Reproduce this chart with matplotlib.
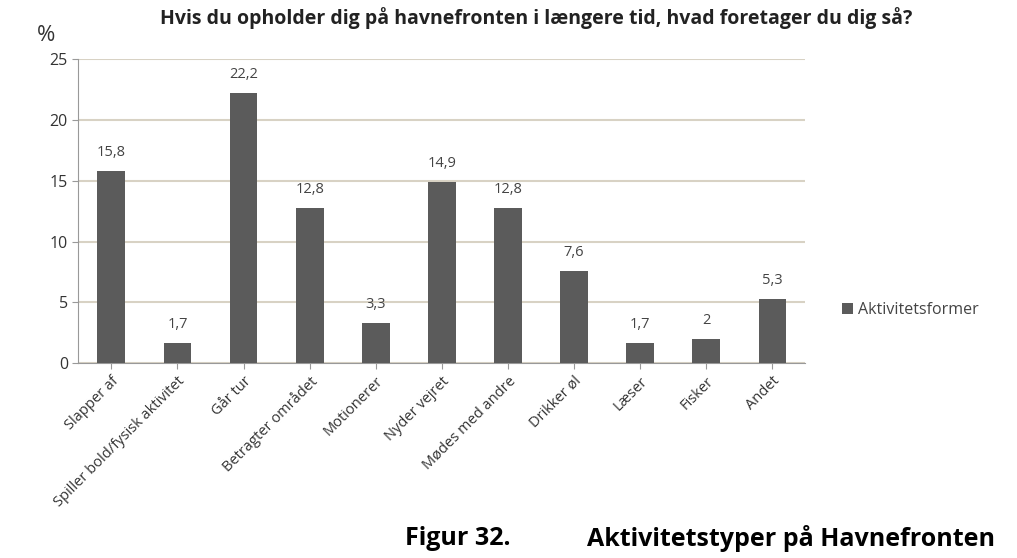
import numpy as np
from matplotlib import pyplot as plt

categories = ['Slapper af', 'Spiller bold/fysisk aktivitet', 'Går tur',
              'Betragter området', 'Motionerer', 'Nyder vejret',
              'Mødes med andre', 'Drikker øl', 'Læser', 'Fisker', 'Andet']
values = [15.8, 1.7, 22.2, 12.8, 3.3, 14.9, 12.8, 7.6, 1.7, 2, 5.3]
labels = ['15,8', '1,7', '22,2', '12,8', '3,3', '14,9', '12,8', '7,6', '1,7', '2', '5,3']
y_ticks = [0, 5, 10, 15, 20, 25]

plt.rcParams['font.family'] = ['Open Sans', 'DejaVu Sans']

fig = plt.figure(figsize=(10.17, 5.58), dpi=100)
ax = fig.add_axes([0.077, 0.349, 0.715, 0.545])

x = np.arange(len(categories))
ax.bar(x, values, width=0.42, color='#5b5b5b', label='Aktivitetsformer', zorder=3)

for xi, v, lab in zip(x, values, labels):
    ax.text(xi, v + 0.9, lab, ha='center', va='bottom', fontsize=10.5, color='#444444')

ax.set_xlim(-0.5, len(categories) - 0.5)
ax.set_ylim(0, 25)
ax.set_yticks(y_ticks)
ax.set_yticklabels([str(t) for t in y_ticks], fontsize=11.5, color='#333333')
ax.yaxis.grid(True, color='#d8d2c4', linewidth=1.5, zorder=0)
ax.set_xticks(x)
ax.set_xticklabels(categories, rotation=45, ha='right', rotation_mode='anchor',
                   fontsize=10.5, color='#333333')
ax.tick_params(axis='x', length=4, color='#999999')
ax.tick_params(axis='y', length=4, color='#999999')

for s in ['top', 'right']:
    ax.spines[s].set_visible(False)
ax.spines['left'].set_color('#999999')
ax.spines['bottom'].set_color('#999999')

leg = ax.legend(loc='center left', bbox_to_anchor=(1.03, 0.175), frameon=False,
                fontsize=11.5, handlelength=0.7, handleheight=0.7, handletextpad=0.3)
for t in leg.get_texts():
    t.set_color('#444444')

fig.text(0.527, 0.968, 'Hvis du opholder dig på havnefronten i længere tid, hvad foretager du dig så?',
         ha='center', va='center', fontsize=14, fontweight='bold', color='#222222')
fig.text(0.045, 0.937, '%', ha='center', va='center', fontsize=16, color='#333333')

fig.text(0.398, 0.035, 'Figur 32.', ha='left', va='center', fontsize=18, fontweight='bold')
fig.text(0.577, 0.035, 'Aktivitetstyper på Havnefronten', ha='left', va='center',
         fontsize=18, fontweight='bold')

plt.savefig('out.png', dpi=100)
